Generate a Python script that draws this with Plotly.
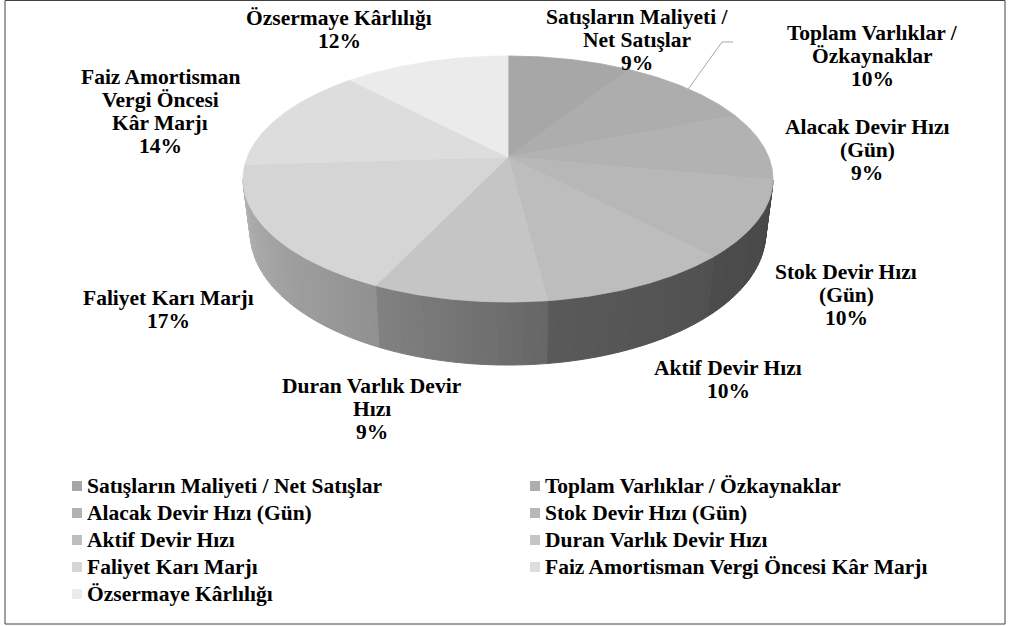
import numpy as np
import plotly.graph_objects as go

# ---------------- data ----------------
categories = [
    "Satışların Maliyeti / Net Satışlar",
    "Toplam Varlıklar / Özkaynaklar",
    "Alacak Devir Hızı (Gün)",
    "Stok Devir Hızı (Gün)",
    "Aktif Devir Hızı",
    "Duran Varlık Devir Hızı",
    "Faliyet Karı Marjı",
    "Faiz Amortisman Vergi Öncesi Kâr Marjı",
    "Özsermaye Kârlılığı",
]
values = [9, 10, 9, 10, 10, 9, 17, 14, 12]
label_lines = [
    ["Satışların Maliyeti /", "Net Satışlar"],
    ["Toplam Varlıklar /", "Özkaynaklar"],
    ["Alacak Devir Hızı", "(Gün)"],
    ["Stok Devir Hızı", "(Gün)"],
    ["Aktif Devir Hızı"],
    ["Duran Varlık Devir", "Hızı"],
    ["Faliyet Karı Marjı"],
    ["Faiz Amortisman", "Vergi Öncesi", "Kâr Marjı"],
    ["Özsermaye Kârlılığı"],
]

# ---------------- style ----------------
top_colors = ["#a7a7a7", "#adadad", "#b2b2b2", "#b7b7b7", "#bdbdbd",
              "#c5c5c5", "#d5d5d5", "#dddddd", "#ebebeb"]
# wall gray level (start, end) along increasing angle, per slice
wall_levels = [None, None, None, (72, 76), (80, 90), (102, 130), (145, 182), (182, 182), None]
# (x centre, y of first line) for each data label
label_pos = [(637, 17), (872, 33), (867, 127), (846, 272), (728, 368),
             (372, 386), (168, 298), (160, 77), (339, 18)]
LINE_GAP = 23
legend_cols = [72, 530]
legend_rows = [486, 513, 540, 567, 594]
FONT = "Liberation Serif"
FS = 21.5

W, H = 1012, 626
CX, CY = 508, 157          # projected centre of the pie
A, B, K = 260.7, 119.1, 0.179  # perspective ellipse parameters
DEPTH = 51.7               # wall thickness
SHRINK = 0.027             # bottom rim slightly narrower


def proj(phi_deg, bottom=False):
    phi = np.radians(phi_deg)
    u, v = np.sin(phi), np.cos(phi)
    d = 1 + K * v
    s = (1 - SHRINK) if bottom else 1.0
    x = CX + A * u / d * s
    y = CY - B * v / d + (DEPTH / d if bottom else 0)
    return x, y


total = float(sum(values))
starts = np.concatenate([[0], np.cumsum(values)[:-1]]) / total * 360
ends = np.cumsum(values) / total * 360

VIS0 = np.degrees(np.arccos(-K))
VIS1 = 360 - VIS0

fig = go.Figure()

# side walls
for i, (a0, a1) in enumerate(zip(starts, ends)):
    lv = wall_levels[i]
    lo, hi = max(a0, VIS0), min(a1, VIS1)
    if lv is None or hi <= lo:
        continue
    n = max(2, int((hi - lo) / 1.5))
    edges = np.linspace(lo, hi, n + 1)
    for j in range(n):
        p0, p1 = edges[j], edges[j + 1]
        t = ((p0 + p1) / 2 - a0) / (a1 - a0)
        g = int(round(lv[0] + (lv[1] - lv[0]) * t))
        col = f"rgb({g},{g},{g})"
        arc = np.linspace(p0, p1, 4)
        xt, yt = proj(arc)
        xb, yb = proj(arc[::-1], bottom=True)
        xs = np.concatenate([xt, xb, xt[:1]])
        ys = np.concatenate([yt, yb, yt[:1]])
        fig.add_trace(go.Scatter(x=xs, y=ys, mode="lines", fill="toself",
                                 fillcolor=col, line=dict(color=col, width=1),
                                 hoverinfo="skip", showlegend=False))

# top faces
for i, (a0, a1) in enumerate(zip(starts, ends)):
    arc = np.linspace(a0, a1, max(8, int((a1 - a0) * 2)))
    xa, ya = proj(arc)
    xs = np.concatenate([[CX], xa, [CX]])
    ys = np.concatenate([[CY], ya, [CY]])
    fig.add_trace(go.Scatter(x=xs, y=ys, mode="lines", fill="toself",
                             fillcolor=top_colors[i],
                             line=dict(color=top_colors[i], width=0.8),
                             name=categories[i], hoverinfo="name",
                             showlegend=False))

annotations = []
for i, v in enumerate(values):
    pct = f"{round(100 * v / total)}%"
    x, y0 = label_pos[i]
    for k, line in enumerate(label_lines[i] + [pct]):
        annotations.append(dict(x=x, y=y0 + k * LINE_GAP, xref="x", yref="y",
                                showarrow=False, text=f"<b>{line}</b>",
                                xanchor="center", yanchor="middle",
                                font=dict(family=FONT, size=FS, color="black")))

# leader line for the Toplam Varlıklar label
mid = (starts[1] + ends[1]) / 2
lx, ly = proj(mid)
fig.add_trace(go.Scatter(x=[lx, 722, 733], y=[ly, 42, 42], mode="lines",
                         line=dict(color="#a6a6a6", width=1),
                         hoverinfo="skip", showlegend=False))

shapes = []
for i, cat in enumerate(categories):
    cx = legend_cols[i % 2]
    cy = legend_rows[i // 2]
    shapes.append(dict(type="rect", xref="x", yref="y", x0=cx, x1=cx + 10,
                       y0=cy - 5, y1=cy + 5, fillcolor=top_colors[i],
                       line=dict(width=0)))
    annotations.append(dict(x=cx + 13, y=cy, xref="x", yref="y", showarrow=False,
                            text=f"<b>{cat}</b>", xanchor="left", yanchor="middle",
                            font=dict(family=FONT, size=FS, color="black")))

shapes.append(dict(type="rect", xref="x", yref="y", x0=5, x1=1005, y0=0.5, y1=624,
                   line=dict(color="#404040", width=1), fillcolor="rgba(0,0,0,0)"))

fig.update_layout(
    width=W, height=H,
    margin=dict(l=0, r=0, t=0, b=0),
    paper_bgcolor="white", plot_bgcolor="white",
    font=dict(family=FONT),
    xaxis=dict(range=[0, W], visible=False, fixedrange=True),
    yaxis=dict(range=[H, 0], visible=False, fixedrange=True),
    annotations=annotations, shapes=shapes,
    showlegend=False,
)

fig.write_html("out.html", config={"displayModeBar": False},
               post_script="document.body.style.margin='0';document.body.style.overflow='hidden';")
